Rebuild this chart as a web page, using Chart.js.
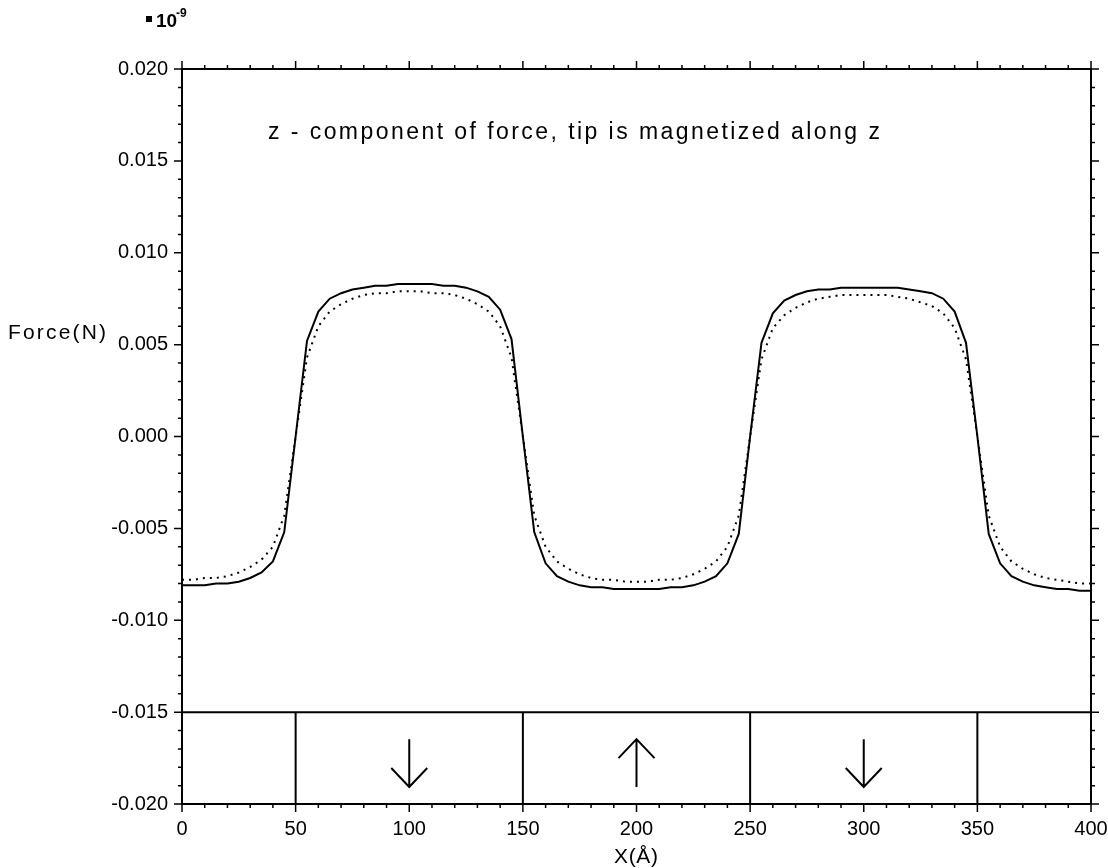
<!DOCTYPE html>
<html>
<head>
<meta charset="utf-8">
<script src="https://cdn.jsdelivr.net/npm/chart.js@4"></script>
<style>
  html, body { margin: 0; padding: 0; background: #fff; }
  canvas { display: block; }
</style>
</head>
<body>
<canvas id="chart" width="1108" height="868"></canvas>
<script>
// sample positions along x (Å)
var xValues = [0, 5, 10, 15, 20, 25, 30, 35, 40, 45,
  50, 55, 60, 65, 70, 75, 80, 85, 90, 95,
  100, 105, 110, 115, 120, 125, 130, 135, 140, 145,
  150, 155, 160, 165, 170, 175, 180, 185, 190, 195,
  200, 205, 210, 215, 220, 225, 230, 235, 240, 245,
  250, 255, 260, 265, 270, 275, 280, 285, 290, 295,
  300, 305, 310, 315, 320, 325, 330, 335, 340, 345,
  350, 355, 360, 365, 370, 375, 380, 385, 390, 395, 400];

// solid curve (units of 1e-9 N)
var forceSolid = [-0.0081, -0.0081, -0.0081, -0.0080, -0.0080, -0.0079, -0.0077, -0.0074, -0.0068, -0.0052,
  0.0000, 0.0052, 0.0068, 0.0075, 0.0078, 0.0080, 0.0081, 0.0082, 0.0082, 0.0083,
  0.0083, 0.0083, 0.0083, 0.0082, 0.0082, 0.0081, 0.0079, 0.0076, 0.0069, 0.0053,
  0.0000, -0.0052, -0.0069, -0.0076, -0.0079, -0.0081, -0.0082, -0.0082, -0.0083, -0.0083,
  -0.0083, -0.0083, -0.0083, -0.0082, -0.0082, -0.0081, -0.0079, -0.0076, -0.0069, -0.0053,
  0.0000, 0.0051, 0.0067, 0.0074, 0.0077, 0.0079, 0.0080, 0.0080, 0.0081, 0.0081,
  0.0081, 0.0081, 0.0081, 0.0081, 0.0080, 0.0079, 0.0078, 0.0075, 0.0068, 0.0051,
  0.0000, -0.0053, -0.0069, -0.0076, -0.0079, -0.0081, -0.0082, -0.0083, -0.0083, -0.0084, -0.0084];

// dotted curve
var forceDotted = [-0.0078, -0.0078, -0.0077, -0.0077, -0.0076, -0.0074, -0.0071, -0.0067, -0.0060, -0.0043,
  0.0000, 0.0043, 0.0060, 0.0068, 0.0072, 0.0075, 0.0077, 0.0078, 0.0078, 0.0079,
  0.0079, 0.0079, 0.0078, 0.0078, 0.0077, 0.0075, 0.0072, 0.0068, 0.0060, 0.0043,
  0.0000, -0.0043, -0.0060, -0.0068, -0.0072, -0.0075, -0.0077, -0.0078, -0.0078, -0.0079,
  -0.0079, -0.0079, -0.0078, -0.0078, -0.0077, -0.0075, -0.0072, -0.0068, -0.0060, -0.0043,
  0.0000, 0.0042, 0.0059, 0.0066, 0.0070, 0.0073, 0.0075, 0.0076, 0.0077, 0.0077,
  0.0077, 0.0077, 0.0077, 0.0076, 0.0075, 0.0073, 0.0071, 0.0067, 0.0059, 0.0042,
  0.0000, -0.0043, -0.0060, -0.0068, -0.0072, -0.0075, -0.0077, -0.0078, -0.0079, -0.0080, -0.0080];

// domain sketch under the curves
var stripLevel = -0.015;
var wallPositions = [50, 150, 250, 350];
var domainCenters = [100, 200, 300];
var domainSpins = ['down', 'up', 'down'];

var xMin = 0, xMax = 400, xStep = 50, xMinorStep = 10;
var yMin = -0.020, yMax = 0.020, yStep = 0.005, yMinorStep = 0.001;

var titleText = 'z - component of force, tip is magnetized along z';
var yTitle = 'Force(N)';
var xTitle = 'X(\u00C5)';

var FONT = '"Liberation Sans", Arial, sans-serif';

function pairs(ys) {
  var out = [];
  for (var i = 0; i < xValues.length; i++) {
    out.push({ x: xValues[i], y: ys[i] });
  }
  return out;
}

var datasets = [
  { data: pairs(forceSolid), borderColor: '#000', borderWidth: 2, showLine: true, pointRadius: 0, tension: 0 },
  { data: pairs(forceDotted), borderColor: '#000', borderWidth: 2, borderDash: [2, 5], showLine: true, pointRadius: 0, tension: 0 },
  { data: [{ x: xMin, y: stripLevel }, { x: xMax, y: stripLevel }], borderColor: '#000', borderWidth: 2, showLine: true, pointRadius: 0 }
];
wallPositions.forEach(function (w) {
  datasets.push({ data: [{ x: w, y: stripLevel }, { x: w, y: yMin }], borderColor: '#000', borderWidth: 2, showLine: true, pointRadius: 0 });
});

// text drawn with extra letter spacing so it spans a given width
function spreadText(c, text, x, y, width) {
  var w = c.measureText(text).width;
  c.letterSpacing = ((width - w) / (text.length - 1)).toFixed(2) + 'px';
  c.fillText(text, x, y);
  c.letterSpacing = '0px';
}

var decorations = {
  id: 'decorations',
  afterDraw: function (chart) {
    var c = chart.ctx, a = chart.chartArea;
    var sx = chart.scales.x, sy = chart.scales.y;
    c.save();
    c.strokeStyle = '#000';
    c.fillStyle = '#000';
    c.lineWidth = 2;
    // frame
    c.strokeRect(a.left, a.top, a.right - a.left, a.bottom - a.top);

    // ticks on all four sides, pointing outwards
    c.lineWidth = 1.5;
    c.beginPath();
    for (var v = xMin; v <= xMax + 0.001; v += xMinorStep) {
      var px = sx.getPixelForValue(v);
      var major = Math.abs(v % xStep) < 0.001;
      var len = major ? 8 : 4;
      c.moveTo(px, a.bottom); c.lineTo(px, a.bottom + len);
      c.moveTo(px, a.top); c.lineTo(px, a.top - len);
    }
    for (var k = 0; k <= Math.round((yMax - yMin) / yMinorStep); k++) {
      var val = yMin + k * yMinorStep;
      var py = sy.getPixelForValue(val);
      var maj = k % 5 === 0;
      var l2 = maj ? 8 : 4;
      c.moveTo(a.left, py); c.lineTo(a.left - l2, py);
      c.moveTo(a.right, py); c.lineTo(a.right + l2, py);
    }
    c.stroke();

    // spin arrows in each domain
    c.lineWidth = 2;
    var top = sy.getPixelForValue(stripLevel) + 27;
    var bot = sy.getPixelForValue(yMin) - 17;
    domainCenters.forEach(function (cx, i) {
      var px = sx.getPixelForValue(cx);
      var down = domainSpins[i] === 'down';
      var tip = down ? bot : top;
      var tail = down ? top : bot;
      var dir = down ? -1 : 1;
      c.beginPath();
      c.moveTo(px, tail); c.lineTo(px, tip);
      c.moveTo(px - 18, tip + dir * 19); c.lineTo(px, tip); c.lineTo(px + 18, tip + dir * 19);
      c.stroke();
    });

    // texts
    c.textBaseline = 'alphabetic';
    c.textAlign = 'left';
    c.font = '23px ' + FONT;
    spreadText(c, titleText, a.left + 86, 139, 612);

    c.font = '21px ' + FONT;
    spreadText(c, yTitle, 8, 339, 98);

    spreadText(c, xTitle, 614, 863, 44);

    // exponent marker
    c.fillRect(146, 16, 6, 6);
    c.font = 'bold 19px ' + FONT;
    c.fillText('10', 156, 27);
    c.font = 'bold 12px ' + FONT;
    c.fillText('-9', 176, 17);
    c.restore();
  }
};

new Chart(document.getElementById('chart').getContext('2d'), {
  type: 'scatter',
  data: { datasets: datasets },
  options: {
    responsive: false,
    animation: false,
    layout: { padding: { top: 69, right: 17, left: 0, bottom: 0 } },
    plugins: { legend: { display: false }, tooltip: { enabled: false } },
    scales: {
      x: {
        type: 'linear', min: xMin, max: xMax,
        ticks: { stepSize: xStep, color: '#000', font: { family: FONT, size: 20 }, padding: 5, maxRotation: 0 },
        grid: { display: false },
        border: { display: false },
        afterFit: function (s) { s.height = 64; s.paddingLeft = 0; s.paddingRight = 0; }
      },
      y: {
        type: 'linear', min: yMin, max: yMax,
        ticks: {
          stepSize: yStep, color: '#000', font: { family: FONT, size: 20 }, padding: 6,
          callback: function (v) { return Math.abs(v) < 1e-9 ? '0.000' : v.toFixed(3); }
        },
        grid: { display: false },
        border: { display: false },
        afterFit: function (s) { s.width = 182; }
      }
    }
  },
  plugins: [decorations]
});
</script>
</body>
</html>
